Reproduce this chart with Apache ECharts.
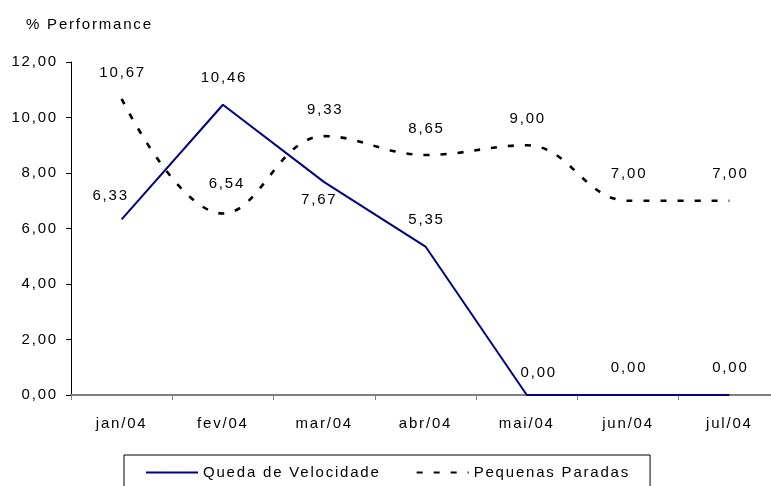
<!DOCTYPE html>
<html>
<head>
<meta charset="utf-8">
<script src="https://cdn.jsdelivr.net/npm/echarts@6/dist/echarts.min.js"></script>
<style>
html,body{margin:0;padding:0;background:#fff;}
#chart{width:771px;height:486px;}
</style>
</head>
<body>
<div id="chart"></div>
<script>
// Emulate the wide letter spacing of the original (applies to measuring and drawing alike)
(function(){
  var d = Object.getOwnPropertyDescriptor(CanvasRenderingContext2D.prototype, 'font');
  if (d && d.set && ('letterSpacing' in CanvasRenderingContext2D.prototype)) {
    Object.defineProperty(CanvasRenderingContext2D.prototype, 'font', {
      configurable: true,
      get: function(){ return d.get.call(this); },
      set: function(v){ d.set.call(this, v); this.letterSpacing = '1.8px'; }
    });
  }
})();

var categories = ['jan/04','fev/04','mar/04','abr/04','mai/04','jun/04','jul/04'];
var quedaVelocidade = [6.33, 10.46, 7.67, 5.35, 0.00, 0.00, 0.00];
var pequenasParadas = [10.67, 6.54, 9.33, 8.65, 9.00, 7.00, 7.00];
var yTicks = [0, 2, 4, 6, 8, 10, 12];

var seriesNames = ['Queda de Velocidade', 'Pequenas Paradas'];
var FONT = 'Liberation Sans, Arial, sans-serif';
var FS = 15;

function fmt(v){ return Number(v).toFixed(2).replace('.', ','); }

// per-point label placement tweaks
var quedaLabelTweaks = {
  0: {offset: [-11, 3]},
  2: {position: 'bottom', distance: 9, offset: [-5, 0]},
  4: {offset: [12, 4]},
  5: {offset: [1, -1]},
  6: {offset: [1, -1]}
};
var pequenasLabelTweaks = {
  1: {offset: [4, -3]}
};

function buildData(values, tweaks){
  return values.map(function(v, i){
    var item = {value: v, label: {offset: [1, 0]}};
    if (tweaks[i]) item.label = tweaks[i];
    return item;
  });
}

var chart = echarts.init(document.getElementById('chart'), null, {renderer: 'canvas'});
chart.setOption({
  animation: false,
  backgroundColor: '#ffffff',
  textStyle: {fontFamily: FONT},
  title: {
    text: '% Performance',
    left: 21, top: 11,
    textStyle: {fontFamily: FONT, fontSize: FS, fontWeight: 'normal', color: '#000'}
  },
  grid: {left: 71, top: 62, width: 709, height: 333, containLabel: false, outerBoundsMode: 'none'},
  legend: {
    left: 124, top: 455,
    padding: [9, 20, 10, 21],
    borderColor: '#000', borderWidth: 1,
    itemWidth: 52, itemHeight: 12, itemGap: 35,
    itemStyle: {opacity: 0},
    textStyle: {fontFamily: FONT, fontSize: FS, color: '#000'},
    data: seriesNames
  },
  xAxis: {
    type: 'category',
    data: categories,
    boundaryGap: true,
    axisLine: {lineStyle: {color: '#808080', width: 2}},
    axisTick: {show: true, length: 5, lineStyle: {color: '#808080', width: 1}},
    axisLabel: {margin: 20, fontFamily: FONT, fontSize: FS, color: '#000'},
    splitLine: {show: false}
  },
  yAxis: {
    type: 'value',
    min: yTicks[0], max: yTicks[yTicks.length - 1], interval: yTicks[1] - yTicks[0],
    axisLine: {show: true, lineStyle: {color: '#000', width: 1}},
    axisTick: {show: true, length: 5, lineStyle: {color: '#000'}},
    axisLabel: {margin: 13, fontFamily: FONT, fontSize: FS, color: '#000', formatter: fmt},
    splitLine: {show: false}
  },
  series: [
    {
      name: seriesNames[0],
      type: 'line',
      data: buildData(quedaVelocidade, quedaLabelTweaks),
      symbol: 'circle',
      symbolSize: 0,
      showSymbol: true,
      smooth: false,
      lineStyle: {color: '#000080', width: 2},
      itemStyle: {color: '#000080'},
      label: {show: true, position: 'top', distance: 18, fontFamily: FONT, fontSize: FS, color: '#000',
              formatter: function(p){ return fmt(p.value); }},
      z: 3
    },
    {
      name: seriesNames[1],
      type: 'line',
      data: buildData(pequenasParadas, pequenasLabelTweaks),
      symbol: 'circle',
      symbolSize: 0,
      showSymbol: true,
      smooth: 0.4,
      lineStyle: {color: '#000', width: 2.6, type: [6, 11]},
      itemStyle: {color: '#000'},
      label: {show: true, position: 'top', distance: 18, fontFamily: FONT, fontSize: FS, color: '#000',
              formatter: function(p){ return fmt(p.value); }},
      z: 2
    }
  ]
});
</script>
</body>
</html>
